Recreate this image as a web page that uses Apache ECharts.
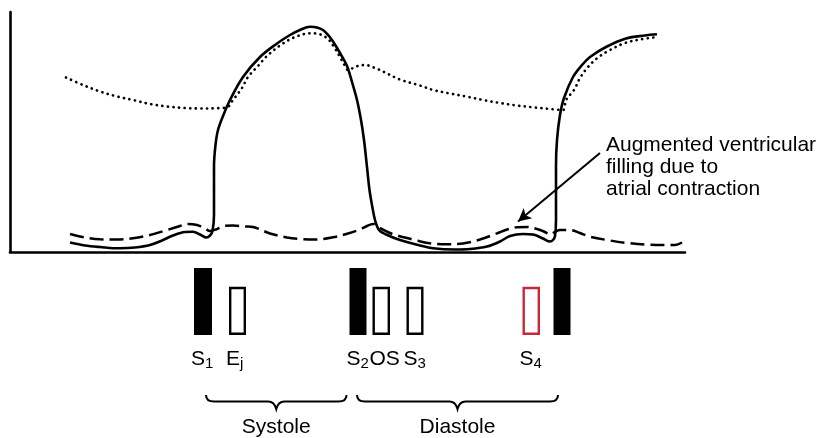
<!DOCTYPE html>
<html>
<head>
<meta charset="utf-8">
<title>Heart sounds and pressures</title>
<script src="https://cdn.jsdelivr.net/npm/echarts@6/dist/echarts.min.js"></script>
<style>
  html, body { margin: 0; padding: 0; background: #fff; }
  #chart { width: 825px; height: 438px; }
</style>
</head>
<body>
<div id="chart"></div>
<script>
// Time in ms across one and a half cardiac cycles, pressure in mmHg.

// Left ventricular pressure
const ventricular = [
  [120, 4.75], [150, 3.25], [180, 2.5], [220, 1.85], [250, 2.25], [280, 3.5],
  [304, 5.75], [326, 8.25], [350, 10], [366, 10.15], [380, 8.75], [393, 7.25],
  [400, 8.25], [405, 10.5], [408, 18.5], [408, 31], [408, 43], [411, 53.5],
  [416, 61], [426, 68], [440, 76], [466, 87.5], [500, 97.5], [534, 104.25],
  [560, 108.5], [580, 111], [600, 112.6], [614, 112.3], [626, 111],
  [638, 108], [648, 104.5], [660, 99.5], [674, 93], [684, 85], [694, 76],
  [702, 66], [708, 56], [714, 42.5], [719, 31], [724, 23.5], [730, 16],
  [738, 11], [750, 9], [780, 6], [820, 3.25], [846, 1.85], [890, 1.25],
  [920, 1.5], [954, 2.75], [980, 5.25], [1000, 8], [1026, 9], [1046, 8.75],
  [1066, 6.75], [1080, 5.25], [1086, 6], [1090, 8], [1092, 16], [1092, 31],
  [1092, 43], [1094, 56], [1100, 68.5], [1108, 77], [1126, 87.5], [1144, 93.5],
  [1160, 97.5], [1192, 102.5], [1232, 106.75], [1270, 108.25], [1294, 108.85]
];

// Aortic pressure
const aortic = [
  [112, 87.25], [146, 83.5], [180, 80.25], [214, 77.75], [246, 76], [280, 74],
  [314, 72.75], [350, 72], [380, 71.75], [410, 71.85], [434, 72.35],
  [446, 76], [464, 82], [476, 87.5], [496, 93], [514, 98], [540, 103.25],
  [568, 107.25], [600, 109.35], [620, 108.85], [636, 106.5], [648, 102.5],
  [660, 97.5], [670, 93], [676, 91], [692, 92.75], [710, 93.5], [728, 92.25],
  [746, 90.25], [780, 86.25], [820, 83.25], [846, 81], [880, 79.25],
  [914, 77.65], [946, 76], [980, 74.5], [1014, 73.25], [1046, 72.35],
  [1080, 71.5], [1106, 71], [1112, 76], [1128, 81], [1140, 87], [1156, 92.5],
  [1176, 97.25], [1200, 101], [1230, 104.5], [1260, 106.25], [1290, 107.35]
];

// Left atrial pressure
const atrial = [
  [120, 9], [150, 7.25], [180, 6.35], [214, 6.25], [246, 6.85], [280, 8.5],
  [314, 11], [340, 13], [354, 14], [374, 13.5], [390, 11.75], [400, 10.5],
  [412, 11.25], [428, 13], [446, 13.25], [470, 12.75], [486, 12.5],
  [520, 9.25], [554, 7.25], [580, 6.5], [610, 6.25], [646, 7.35], [676, 9.25],
  [700, 11.25], [714, 13], [726, 14], [740, 12], [760, 9.5], [774, 8.25],
  [806, 6.25], [840, 4.35], [874, 3.85], [906, 4.25], [940, 6.25], [974, 9.35],
  [994, 11.25], [1014, 12.35], [1034, 12.5], [1054, 11.5], [1070, 10],
  [1080, 8.75], [1090, 10], [1100, 11], [1120, 11], [1140, 9.5], [1160, 7.65],
  [1200, 5.75], [1240, 4.35], [1280, 3.6], [1310, 3.5], [1330, 3.5], [1344, 4.75]
];

// Heart sounds: label, subscript, onset (ms), end (ms), relative loudness, colour
const soundNames = ['S', 'E', 'S', 'OS', 'S', 'S', 'S'];
const soundSubs = ['1', 'j', '2', '', '3', '4', ''];
const soundStart = [368, 438, 679, 725, 793, 1025, 1087];
const soundEnd = [404, 472, 713, 760, 827, 1060, 1121];
const soundLevel = [1, 0.72, 1, 0.72, 0.72, 0.72, 1];
const soundColor = ['#000', '#000', '#000', '#000', '#000', '#c9283a', '#000'];

// Phases of the cycle
const phaseNames = ['Systole', 'Diastole'];
const phaseStart = [392, 694];
const phaseEnd = [673, 1096];

// Annotation: text anchor and the point the arrow targets
const noteText = 'Augmented ventricular\nfilling due to\natrial contraction';
const noteFrom = [1180, 49.5];
const noteTo = [1016, 15.25];

const FONT = '"Liberation Sans", Arial, Helvetica, sans-serif';

const soundData = soundStart.map((s, i) => [s, soundEnd[i], soundLevel[i], i]);
const phaseData = phaseStart.map((s, i) => [s, phaseEnd[i], i]);

const chart = echarts.init(document.getElementById('chart'), null, { renderer: 'canvas' });

function renderSound(params, api) {
  const i = api.value(3);
  const p0 = api.coord([api.value(0), api.value(2)]);
  const p1 = api.coord([api.value(1), 0]);
  const loud = api.value(2) >= 1;
  const children = [];
  if (loud) {
    children.push({
      type: 'rect',
      shape: { x: p0[0], y: p0[1], width: p1[0] - p0[0], height: p1[1] - p0[1] },
      style: { fill: soundColor[i] }
    });
  } else {
    const w = 2.4;
    children.push({
      type: 'rect',
      shape: { x: p0[0] + w / 2, y: p0[1] + w / 2, width: p1[0] - p0[0] - w, height: p1[1] - p0[1] - w },
      style: { fill: '#fff', stroke: soundColor[i], lineWidth: w }
    });
  }
  if (i < soundNames.length - 1) {
    const sub = soundSubs[i];
    children.push({
      type: 'text',
      x: p0[0] - 3,
      y: p1[1] + 24,
      style: {
        text: '{m|' + soundNames[i] + '}' + (sub ? '{s|' + sub + '}' : ''),
        align: 'left',
        verticalAlign: 'middle',
        fill: '#000',
        rich: {
          m: { fontSize: 21, fontFamily: FONT, fill: '#000' },
          s: { fontSize: 15, fontFamily: FONT, fill: '#000', padding: [10, 0, 0, 0] }
        }
      }
    });
  }
  return { type: 'group', children };
}

function renderPhase(params, api) {
  const i = api.value(2);
  const a = api.coord([api.value(0), 0]);
  const b = api.coord([api.value(1), 0]);
  const x0 = a[0], x1 = b[0], xm = (x0 + x1) / 2;
  const yTop = a[1] + 60, yMid = yTop + 6.5, yTip = yTop + 14;
  const path =
    'M' + x0 + ' ' + yTop +
    ' Q' + x0 + ' ' + yMid + ' ' + (x0 + 8) + ' ' + yMid +
    ' L' + (xm - 8) + ' ' + yMid +
    ' Q' + (xm - 2) + ' ' + yMid + ' ' + xm + ' ' + yTip +
    ' Q' + (xm + 2) + ' ' + yMid + ' ' + (xm + 8) + ' ' + yMid +
    ' L' + (x1 - 8) + ' ' + yMid +
    ' Q' + x1 + ' ' + yMid + ' ' + x1 + ' ' + yTop;
  return {
    type: 'group',
    children: [
      {
        type: 'path',
        shape: { pathData: path },
        style: { fill: null, stroke: '#000', lineWidth: 2 }
      },
      {
        type: 'text',
        x: xm,
        y: yTop + 32.5,
        style: {
          text: phaseNames[i], align: 'center', verticalAlign: 'middle',
          fontSize: 21, fontFamily: FONT, fill: '#000'
        }
      }
    ]
  };
}

const option = {
  animation: false,
  backgroundColor: '#fff',
  grid: [
    { left: 10, top: 12, width: 675, height: 240 },
    { left: 10, top: 268, width: 675, height: 67 }
  ],
  xAxis: [
    {
      gridIndex: 0, type: 'value', min: 0, max: 1350,
      axisLine: { show: true, lineStyle: { color: '#000', width: 2.6 } },
      axisTick: { show: false }, axisLabel: { show: false }, splitLine: { show: false }
    },
    {
      gridIndex: 1, type: 'value', min: 0, max: 1350, show: false
    }
  ],
  yAxis: [
    {
      gridIndex: 0, type: 'value', min: 0, max: 120,
      axisLine: { show: true, lineStyle: { color: '#000', width: 2.6 } },
      axisTick: { show: false }, axisLabel: { show: false }, splitLine: { show: false }
    },
    {
      gridIndex: 1, type: 'value', min: 0, max: 1, show: false
    }
  ],
  series: [
    {
      name: 'Aortic pressure', type: 'line', data: aortic,
      xAxisIndex: 0, yAxisIndex: 0, showSymbol: false, smooth: 0.35,
      lineStyle: { color: '#000', width: 2.7, type: [0.1, 5.5], cap: 'round' }
    },
    {
      name: 'Left atrial pressure', type: 'line', data: atrial,
      xAxisIndex: 0, yAxisIndex: 0, showSymbol: false, smooth: 0.35,
      lineStyle: { color: '#000', width: 2.5, type: [14, 6] }
    },
    {
      name: 'Left ventricular pressure', type: 'line', data: ventricular,
      xAxisIndex: 0, yAxisIndex: 0, showSymbol: false, smooth: 0.35,
      lineStyle: { color: '#000', width: 2.6 },
      markLine: {
        silent: true,
        symbol: ['none', 'arrow'],
        symbolSize: [10, 13],
        label: { show: false },
        lineStyle: { color: '#000', width: 2, type: 'solid' },
        data: [[{ coord: noteFrom }, { coord: noteTo }]]
      }
    },
    {
      name: 'Heart sounds', type: 'custom', data: soundData,
      xAxisIndex: 1, yAxisIndex: 1, renderItem: renderSound, clip: false
    },
    {
      name: 'Phases', type: 'custom', data: phaseData,
      xAxisIndex: 1, yAxisIndex: 1, renderItem: renderPhase, clip: false
    }
  ]
};

chart.setOption(option);

// Annotation text placed beside the start of the arrow
const anchor = chart.convertToPixel({ gridIndex: 0 }, noteFrom);
chart.setOption({
  graphic: [{
    type: 'text',
    x: anchor[0] + 6,
    y: anchor[1] - 18.5,
    style: {
      text: noteText, fontSize: 21, fontFamily: FONT, fill: '#000',
      lineHeight: 22, align: 'left', verticalAlign: 'top'
    }
  }]
});
</script>
</body>
</html>
